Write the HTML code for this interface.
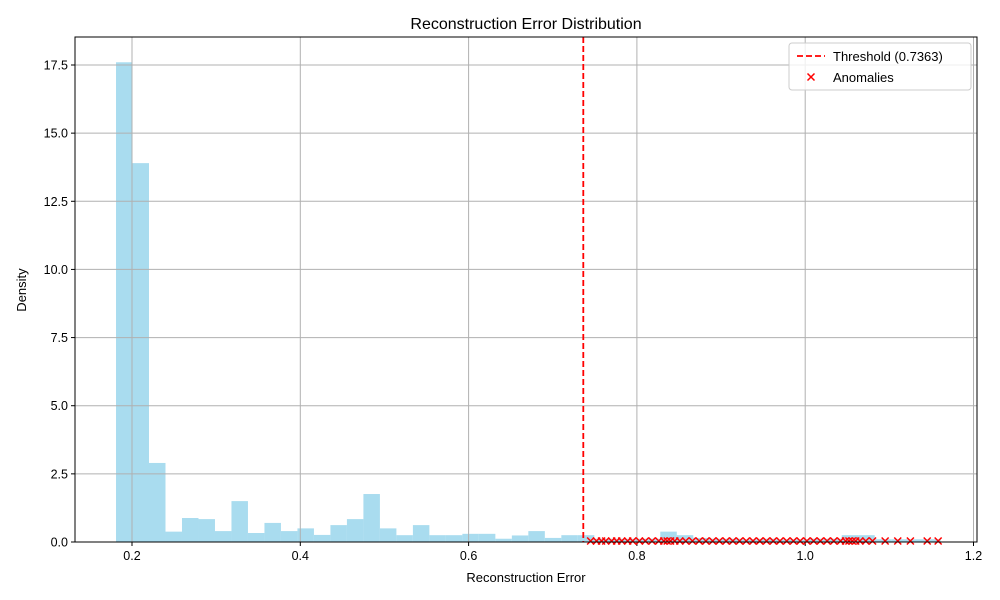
<!DOCTYPE html>
<html><head><meta charset="utf-8"><style>body{margin:0;background:#fff}svg{display:block;font-family:"Liberation Sans","DejaVu Sans",sans-serif}</style></head>
<body>
<svg id="chart" width="1000" height="600"></svg>
<script>
const binStart = 0.181;
const binWidth = 0.0196;
const densities = [17.6,13.9,2.9,0.38,0.88,0.84,0.4,1.5,0.33,0.7,0.4,0.5,0.26,0.62,0.84,1.76,0.5,0.25,0.62,0.25,0.25,0.3,0.3,0.12,0.24,0.4,0.15,0.25,0.25,0.12,0.12,0.12,0.12,0.38,0.25,0.15,0.12,0.12,0.1,0.12,0.1,0.1,0.12,0.12,0.25,0.25,0.1,0.1,0.1,0.1];
const threshold = 0.7363;
const anomalies = [0.745,0.752,0.758,0.763,0.77,0.776,0.782,0.789,0.795,0.803,0.81,0.818,0.826,0.832,0.836,0.84,0.845,0.851,0.858,0.866,0.874,0.882,0.89,0.898,0.906,0.914,0.922,0.93,0.938,0.946,0.954,0.962,0.97,0.978,0.986,0.994,1.002,1.01,1.018,1.026,1.034,1.042,1.048,1.052,1.056,1.06,1.065,1.072,1.08,1.095,1.11,1.125,1.145,1.158];
const xTicks = [0.2,0.4,0.6,0.8,1.0,1.2];
const yTicks = [0,2.5,5,7.5,10,12.5,15,17.5];

const L=75,R=977,T=37,B=542;
const X=v=>-36.3+841.5*v;
const Y=v=>542-27.257*v;
const svg=document.getElementById('chart');
const NS='http://www.w3.org/2000/svg';
function mk(tag,attrs,parent){const e=document.createElementNS(NS,tag);for(const k in attrs)e.setAttribute(k,attrs[k]);(parent||svg).appendChild(e);return e;}

for(let i=0;i<densities.length;i++){
  const x0=X(binStart+i*binWidth),x1=X(binStart+(i+1)*binWidth);
  const r=mk('rect',{x:x0,y:Y(densities[i]),width:x1-x0,height:Y(0)-Y(densities[i]),fill:'#a9dcef'});
  
  
}
xTicks.forEach(t=>{
  const x=X(t);
  const g=mk('line',{x1:x,x2:x,y1:T,y2:B,stroke:'#b0b0b0','stroke-width':1});
  
  
  mk('line',{x1:x,x2:x,y1:B,y2:B+4,stroke:'#000'});
  const tx=mk('text',{x:x,y:B+18,'text-anchor':'middle','font-size':12.5,fill:'#000'});
  tx.textContent=t.toFixed(1);
  
  
});
yTicks.forEach(t=>{
  const y=Y(t);
  const g=mk('line',{x1:L,x2:R,y1:y,y2:y,stroke:'#b0b0b0','stroke-width':1});
  
  
  mk('line',{x1:L-4,x2:L,y1:y,y2:y,stroke:'#000'});
  const tx=mk('text',{x:L-7,y:y+4.5,'text-anchor':'end','font-size':12.5,fill:'#000'});
  tx.textContent=t.toFixed(1);
  
  
});
const th=mk('line',{x1:X(threshold),x2:X(threshold),y1:T,y2:B,stroke:'#ff0000','stroke-width':1.8,'stroke-dasharray':'6,3'});


anomalies.forEach(a=>{
  const x=X(a),y=Y(0)-1,s=3.5;
  const p=mk('path',{d:`M${x-s},${y-s}L${x+s},${y+s}M${x-s},${y+s}L${x+s},${y-s}`,stroke:'#ff0000','stroke-width':1.5,fill:'none'});
  
  
});
const fr=mk('rect',{x:L,y:T,width:R-L,height:B-T,fill:'none',stroke:'#000','stroke-width':1});


</script>
<svg style="position:absolute;left:0;top:0" width="1000" height="600">
<text x="526" y="29" text-anchor="middle" font-size="16">Reconstruction Error Distribution</text>
<text x="526" y="582" text-anchor="middle" font-size="13">Reconstruction Error</text>
<text x="26" y="290" text-anchor="middle" font-size="13" transform="rotate(-90 26 290)">Density</text>
<g>
<rect x="789" y="43" width="182" height="47" rx="3" fill="#fff" fill-opacity="0.8" stroke="#ccc"/>
<line x1="797" x2="825" y1="56" y2="56" stroke="#ff0000" stroke-width="1.8" stroke-dasharray="6,3"/>
<text x="833" y="61" font-size="13">Threshold (0.7363)</text>
<path d="M807.5,73.5L814.5,80.5M807.5,80.5L814.5,73.5" stroke="#ff0000" stroke-width="1.5"/>
<text x="833" y="82" font-size="13">Anomalies</text>
</g>
</svg>
</body></html>
